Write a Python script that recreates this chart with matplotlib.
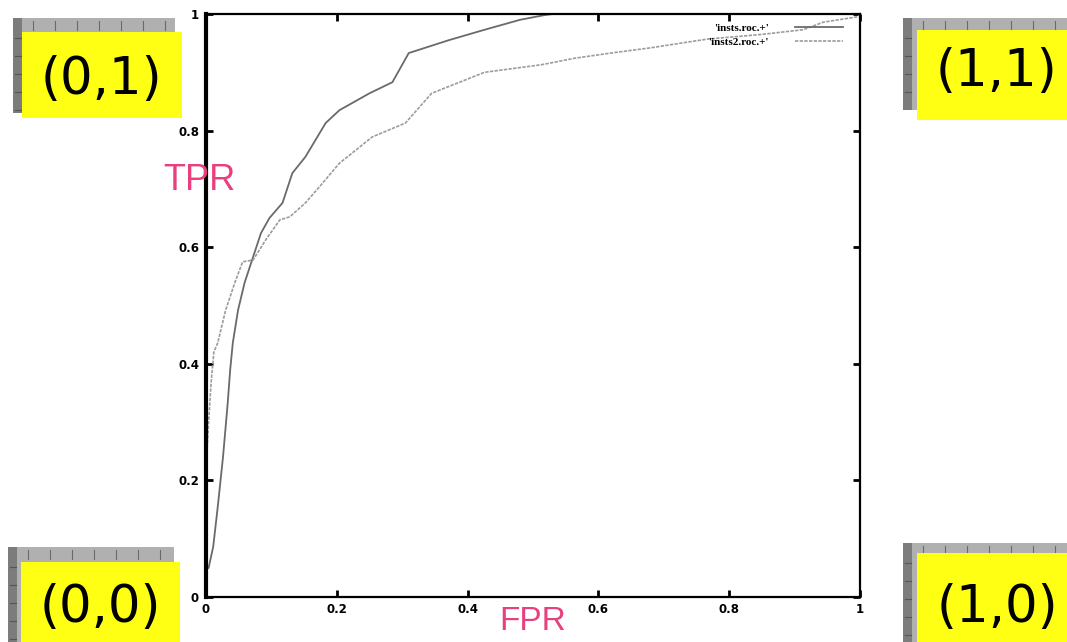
import matplotlib
matplotlib.use("Agg")
import matplotlib.pyplot as plt
from matplotlib.patches import Rectangle
import numpy as np

# ROC curve 1 ('insts.roc.+')
fpr_1 = [0.0, 0.0, 0.004, 0.011, 0.018, 0.026, 0.033, 0.037, 0.041, 0.049, 0.059, 0.069,
         0.084, 0.097, 0.117, 0.132, 0.152, 0.183, 0.204, 0.25, 0.285, 0.31, 0.371,
         0.426, 0.48, 0.517, 0.53, 1.0]
tpr_1 = [0.0, 0.046, 0.05, 0.086, 0.155, 0.24, 0.33, 0.39, 0.436, 0.492, 0.539, 0.573,
         0.624, 0.65, 0.676, 0.727, 0.755, 0.813, 0.835, 0.864, 0.883, 0.933, 0.955,
         0.973, 0.99, 0.998, 1.0, 1.0]

# ROC curve 2 ('insts2.roc.+')
fpr_2 = [0.0, 0.0, 0.004, 0.008, 0.012, 0.018, 0.030, 0.044, 0.056, 0.072, 0.091, 0.113,
         0.128, 0.152, 0.173, 0.204, 0.254, 0.305, 0.345, 0.426, 0.513, 0.563, 0.619,
         0.68, 0.726, 0.767, 0.85, 0.913, 0.944, 0.995, 1.0]
tpr_2 = [0.0, 0.22, 0.30, 0.37, 0.42, 0.436, 0.492, 0.539, 0.575, 0.578, 0.612, 0.647,
         0.652, 0.676, 0.703, 0.744, 0.789, 0.813, 0.864, 0.90, 0.913, 0.924, 0.933,
         0.942, 0.95, 0.957, 0.965, 0.973, 0.986, 0.995, 1.0]

series_labels = ["'insts.roc.+'", "'insts2.roc.+'"]
tick_vals = [0, 0.2, 0.4, 0.6, 0.8, 1]
tick_labels = ["0", "0.2", "0.4", "0.6", "0.8", "1"]
corner_labels = ["(0,1)", "(1,1)", "(0,0)", "(1,0)"]

W, H = 1067, 642
PINK = "#e8407f"


def fx(x):
    return x / W


def fy(y):
    return 1 - y / H


fig = plt.figure(figsize=(W / 100, H / 100), dpi=100)
fig.patch.set_facecolor("white")

ax = fig.add_axes([fx(206), fy(597), fx(860) - fx(206), fy(14) - fy(597)])
ax.plot(fpr_1, tpr_1, color="#6a6a6a", lw=1.3, label=series_labels[0])
ax.plot(fpr_2, tpr_2, color="#9c9c9c", lw=1.2, ls=(0, (2, 0.8)), label=series_labels[1])
ax.set_xlim(0, 1)
ax.set_ylim(0, 1)
ax.set_xticks(tick_vals)
ax.set_xticklabels(tick_labels)
ax.set_yticks(tick_vals)
ax.set_yticklabels(tick_labels)
ax.tick_params(direction="in", length=5, width=2, top=True, right=True,
               labelsize=8.5, colors="black")
ax.tick_params(axis="x", pad=4)
ax.tick_params(axis="y", pad=5)
for lab in ax.get_xticklabels() + ax.get_yticklabels():
    lab.set_fontweight("bold")
for side in ["top", "right", "bottom"]:
    ax.spines[side].set_linewidth(1.6)
ax.spines["left"].set_linewidth(3)

leg = ax.legend(loc="upper right", bbox_to_anchor=(0.974, 0.985), frameon=False,
                markerfirst=False, handlelength=4.3, handletextpad=2.4, labelspacing=0.4,
                borderpad=0, borderaxespad=0,
                prop={"family": "Liberation Serif", "size": 8, "weight": "bold"})

# corner boxes: gray ruler-like backing plus yellow label box (pixel coords)
boxes = [
    # gray x0, y0, x1, y1, yellow x0, y0, x1, y1, text cx, cy
    (13, 18, 175, 113, 22, 32, 182, 118, 101, 80),
    (903, 18, 1067, 110, 917, 30, 1067, 120, 997, 72),
    (8, 547, 174, 642, 21, 562, 180, 642, 100, 608),
    (903, 543, 1067, 642, 917, 553, 1067, 642, 997, 608),
]
for (gx0, gy0, gx1, gy1, yx0, yy0, yx1, yy1, tx, ty), lab in zip(boxes, corner_labels):
    fig.patches.append(Rectangle((fx(gx0), fy(gy1)), fx(gx1 - gx0), (gy1 - gy0) / H,
                                 transform=fig.transFigure, facecolor="#b0b0b0",
                                 edgecolor="none", zorder=1))
    fig.patches.append(Rectangle((fx(gx0), fy(gy1)), fx(9), (gy1 - gy0) / H,
                                 transform=fig.transFigure, facecolor="#7c7c7c",
                                 edgecolor="none", zorder=1))
    for tk in np.arange(gx0 + 20, gx1, 22):
        fig.add_artist(plt.Line2D([fx(tk), fx(tk)], [fy(gy0 + 3), fy(gy0 + 12)],
                                  transform=fig.transFigure, color="#6a6a6a", lw=0.8,
                                  zorder=1.5))
    for tk in np.arange(gy0 + 20, gy1, 18):
        fig.add_artist(plt.Line2D([fx(gx0 + 2), fx(gx0 + 8)], [fy(tk), fy(tk)],
                                  transform=fig.transFigure, color="#555555", lw=0.8,
                                  zorder=1.5))
    fig.patches.append(Rectangle((fx(yx0), fy(yy1)), fx(yx1 - yx0), (yy1 - yy0) / H,
                                 transform=fig.transFigure, facecolor="#ffff14",
                                 edgecolor="none", zorder=2))
    fig.text(fx(tx), fy(ty), lab, fontsize=37, color="black", ha="center",
             va="center", family="DejaVu Sans", zorder=3)

fig.text(fx(199), fy(180), "TPR", fontsize=26, color=PINK, ha="center", va="center",
         family="Liberation Sans")
fig.text(fx(533), fy(621), "FPR", fontsize=24, color=PINK, ha="center", va="center",
         family="Liberation Sans")

fig.savefig("out.png", dpi=100)
